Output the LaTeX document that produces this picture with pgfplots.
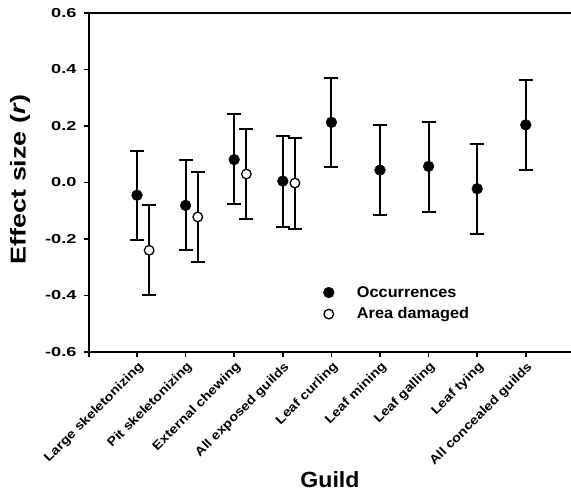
\documentclass[border=0pt]{standalone}
\usepackage{pgfplots}
\pgfplotsset{compat=1.18}
\usepackage{pgfplotstable}
\usepackage{fontspec}
\setmainfont{Liberation Sans}
\newfontfamily\ytickfont[FakeStretch=1.4]{Liberation Sans}
\newfontfamily\xtickfont[FakeStretch=1.15]{Liberation Sans}
\newfontfamily\ylabfont[FakeStretch=1.25]{Liberation Sans}
\newfontfamily\legfont[FakeStretch=1.05]{Liberation Sans}

\pgfplotstableread{
x y lo hi
0 -0.045 -0.205 0.112
1 -0.081 -0.238 0.078
2 0.081 -0.076 0.242
3 0.005 -0.156 0.163
4 0.213 0.054 0.370
5 0.044 -0.116 0.202
6 0.057 -0.105 0.214
7 -0.022 -0.182 0.136
8 0.204 0.043 0.362
}\occ

\pgfplotstableread{
x y lo hi
0.25 -0.240 -0.398 -0.081
1.25 -0.122 -0.282 0.036
2.25 0.030 -0.130 0.190
3.25 -0.002 -0.166 0.159
}\area

\begin{document}
\begin{tikzpicture}
\begin{axis}[
  at={(0,0)}, anchor=south west,
  scale only axis,
  width=482pt, height=339pt,
  xmin=-0.988, xmax=8.93,
  ymin=-0.6, ymax=0.6,
  axis x line=box, axis y line=left,
  axis line style={line width=1.8pt, -},
  every outer x axis line/.append style={-},
  every outer y axis line/.append style={-},
  xtick={0,...,8},
  xtick pos=bottom,
  extra x ticks={-0.988},
  extra x tick labels={},
  xticklabels={Large skeletonizing, Pit skeletonizing, External chewing, All exposed guilds, Leaf curling, Leaf mining, Leaf galling, Leaf tying, All concealed guilds},
  xticklabel style={rotate=45, anchor=east, yshift=-9pt, xshift=1pt, font=\fontsize{12.5}{13}\selectfont\xtickfont\bfseries},
  ytick={-0.6,-0.4,...,0.6},
  yticklabel style={xshift=-4pt, font=\fontsize{13}{13}\selectfont\ytickfont\bfseries, /pgf/number format/.cd, fixed, fixed zerofill, precision=1},
  /pgf/number format/assume math mode=true,
  tick align=outside,
  major tick length=5pt,
  tick style={line width=1.5pt, black},
  ylabel={\textbf{Effect size (\textit{r})}},
  ylabel style={font=\fontsize{21.5}{22}\selectfont\ylabfont, at={(axis description cs:-0.143,0.51)}, anchor=center},
  xlabel={\textbf{Guild}},
  xlabel style={font=\fontsize{22}{23}\selectfont\legfont, at={(axis description cs:0.5,0)}, yshift=-128pt, anchor=center},
  clip=false,
  legend style={draw=none, fill=none, at={(axis description cs:0.478,0.206)}, anchor=north west, font=\fontsize{15.5}{16}\selectfont\legfont\bfseries, row sep=5pt, legend cell align=left},
  legend image code/.code={\draw[#1] plot coordinates {(0pt,0pt)};\path (-6pt,0pt) (26pt,0pt);},
]
\addplot[only marks, mark=*, mark size=5.4pt, black,
  error bars/.cd, y dir=both, y explicit,
  error bar style={line width=2pt, black},
  error mark options={rotate=90, mark size=7pt, line width=2pt, black}]
  table[x=x, y=y, y error plus expr=\thisrow{hi}-\thisrow{y}, y error minus expr=\thisrow{y}-\thisrow{lo}]{\occ};
\addlegendentry{Occurrences}
\addplot[only marks, mark=*, mark size=4.8pt, mark options={fill=white, draw=black, line width=1.3pt},
  error bars/.cd, y dir=both, y explicit,
  error bar style={line width=2pt, black},
  error mark options={rotate=90, mark size=7pt, line width=2pt, black}]
  table[x=x, y=y, y error plus expr=\thisrow{hi}-\thisrow{y}, y error minus expr=\thisrow{y}-\thisrow{lo}]{\area};
\addlegendentry{Area damaged}
\end{axis}
\pgfresetboundingbox
\path[use as bounding box] (-89pt,-141pt) rectangle (482pt,352pt);
\end{tikzpicture}
\end{document}
